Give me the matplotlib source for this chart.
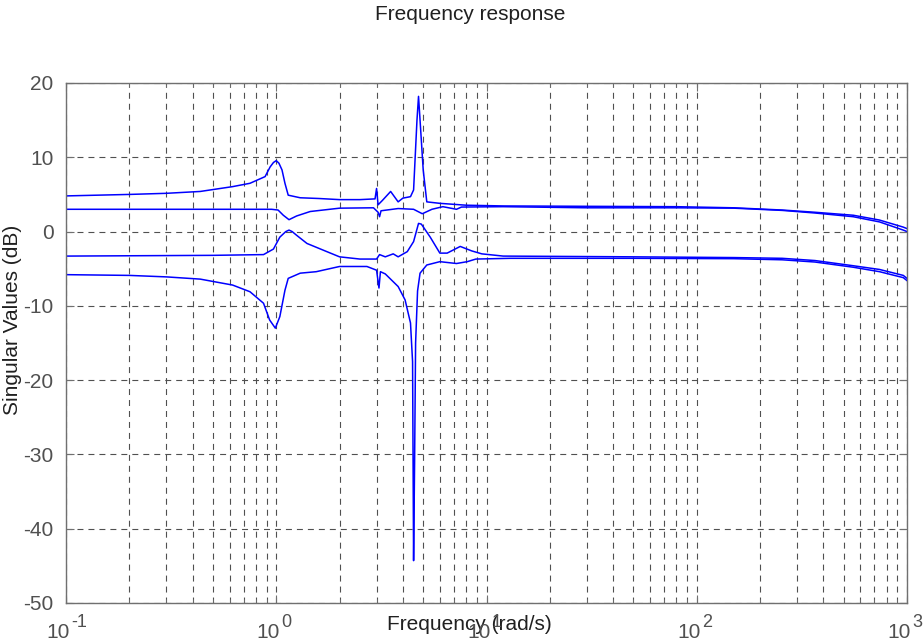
import matplotlib
matplotlib.use('Agg')
import matplotlib.pyplot as plt
from matplotlib.ticker import FixedLocator, LogLocator, NullFormatter
from matplotlib.transforms import offset_copy


# singular values: frequency (rad/s) and level (dB)
sv1_freq = [0.1, 0.2, 0.3, 0.435, 0.62, 0.75, 0.885, 0.935, 0.97, 1.0, 1.03, 1.065,
            1.1, 1.14, 1.3, 1.6, 2.0, 2.5, 2.95, 3.0, 3.05, 3.2, 3.5, 3.8, 4.0,
            4.35, 4.5, 4.67, 4.75, 4.83, 5.0, 5.2, 6.0, 8.0, 12, 30, 80, 150,
            255, 365, 555, 740, 960, 1000]
sv1_db = [4.8, 5.0, 5.15, 5.4, 6.05, 6.5, 7.4, 8.7, 9.3, 9.55, 9.2, 8.3,
          6.5, 4.9, 4.55, 4.45, 4.3, 4.3, 4.4, 5.8, 3.6, 4.2, 5.4, 4.0, 4.5,
          4.7, 5.6, 15.0, 18.2, 15.0, 8.3, 4.0, 3.8, 3.55, 3.45, 3.4, 3.35, 3.2,
          2.9, 2.6, 2.2, 1.55, 0.6, 0.4]

sv2_freq = [0.1, 0.5, 0.95, 1.02, 1.08, 1.15, 1.25, 1.45, 2.0, 2.9, 3.05, 3.1,
            3.15, 3.8, 4.5, 4.95, 5.5, 6.2, 7.2, 7.6, 12, 30, 80, 150, 255,
            365, 555, 740, 960, 1000]
sv2_db = [3.0, 3.0, 3.0, 2.9, 2.2, 1.6, 2.1, 2.7, 3.15, 3.2, 2.6, 2.0,
          2.8, 3.1, 3.0, 2.4, 3.0, 3.35, 3.0, 3.3, 3.35, 3.2, 3.2, 3.15, 2.85,
          2.5, 2.0, 1.3, 0.2, 0.0]

sv3_freq = [0.1, 0.5, 0.87, 0.97, 1.04, 1.11, 1.15, 1.19, 1.25, 1.4, 1.74, 2.0,
            2.5, 3.0, 3.1, 3.3, 3.6, 3.8, 4.2, 4.5, 4.75, 4.9, 5.4, 6.0, 6.5,
            7.5, 8.5, 9.5, 12, 50, 150, 255, 365, 555, 740, 960, 1000]
sv3_db = [-3.3, -3.2, -3.1, -2.35, -0.75, 0.0, 0.2, 0.0, -0.5, -1.6, -2.7, -3.4,
          -3.7, -3.7, -3.1, -3.4, -3.0, -3.4, -2.7, -1.35, 1.1, 1.0, -0.75, -2.9, -2.9,
          -2.0, -2.6, -3.0, -3.3, -3.4, -3.5, -3.6, -3.9, -4.6, -5.1, -5.9, -6.3]

sv4_freq = [0.1, 0.2, 0.3, 0.435, 0.62, 0.75, 0.87, 0.93, 0.99, 1.04, 1.1, 1.14,
            1.3, 1.55, 2.0, 2.7, 3.0, 3.08, 3.13, 3.3, 3.8, 4.1, 4.35, 4.45,
            4.5, 4.55, 4.6, 4.7, 4.83, 5.2, 6.0, 7.2, 8.1, 8.9, 13, 50, 150,
            255, 365, 555, 740, 960, 1000]
sv4_db = [-5.8, -5.9, -6.1, -6.4, -7.2, -8.1, -9.65, -11.9, -13.0, -11.45, -7.9, -6.3,
          -5.6, -5.4, -4.7, -4.7, -5.2, -7.6, -5.4, -5.7, -7.4, -9.2, -12.3, -17.5,
          -44.3, -31.0, -15.0, -8.0, -5.6, -4.5, -4.05, -4.3, -4.05, -3.7, -3.6, -3.6, -3.65,
          -3.8, -4.1, -4.8, -5.4, -6.2, -6.6]

x_limits = [0.1, 1000]
x_ticks = [0.1, 1, 10, 100, 1000]
x_exponents = ['-1', '0', '1', '2', '3']
y_limits = [-50, 20]
y_ticks = [-50, -40, -30, -20, -10, 0, 10, 20]

plt.rcParams['font.family'] = ['Liberation Sans', 'DejaVu Sans']
plt.rcParams['axes.unicode_minus'] = False
plt.rcParams['lines.scale_dashes'] = False

fig = plt.figure(figsize=(9.23, 6.43), dpi=100)
ax = fig.add_axes([66 / 923, 40 / 643, 841 / 923, 520 / 643])

for fr, db in [(sv1_freq, sv1_db), (sv2_freq, sv2_db),
               (sv3_freq, sv3_db), (sv4_freq, sv4_db)]:
    ax.plot(fr, db, color='#0000ff', lw=1.1)

ax.set_xscale('log')
ax.set_xlim(x_limits)
ax.set_ylim(y_limits)
ax.set_yticks(y_ticks)
ax.xaxis.set_major_locator(FixedLocator(x_ticks))
ax.xaxis.set_minor_locator(LogLocator(base=10, subs=range(2, 10), numticks=20))
ax.xaxis.set_minor_formatter(NullFormatter())

grid_style = dict(color='#505050', lw=0.8, linestyle=(0, (4.3, 3.6)))
ax.grid(True, which='major', axis='both', **grid_style)
ax.grid(True, which='minor', axis='x', **grid_style)

for sp in ax.spines.values():
    sp.set_color('#707070')
    sp.set_linewidth(1.0)

ax.tick_params(which='both', direction='in', top=True, right=True,
               colors='#707070', labelcolor='#505050', labelsize=15)
ax.tick_params(which='major', length=6)
ax.tick_params(which='minor', length=3)
ax.tick_params(axis='x', labelbottom=False)
ax.tick_params(axis='y', pad=9)

# matlab style log labels: base and exponent as two texts of near equal size
base_tr = offset_copy(ax.get_xaxis_transform(), fig=fig, x=4, y=0, units='dots')
exp_tr = offset_copy(ax.get_xaxis_transform(), fig=fig, x=5, y=0, units='dots')
for xv, ex in zip(x_ticks, x_exponents):
    ax.text(xv, -0.067, '10', transform=base_tr, ha='right', va='baseline',
            fontsize=15, color='#505050', clip_on=False)
    ax.text(xv, -0.047, ex, transform=exp_tr, ha='left', va='baseline',
            fontsize=13, color='#505050', clip_on=False)

ax.set_xlabel('Frequency (rad/s)', fontsize=15, color='#202020')
ax.xaxis.set_label_coords(0.48, -0.024)
ax.set_ylabel('Singular Values (dB)', fontsize=15, color='#202020')
ax.yaxis.set_label_coords(-0.052, 0.545)

fig.text(470 / 923, 1 - 20 / 643, 'Frequency response', ha='center',
         va='baseline', fontsize=15, color='#202020')

fig.savefig('out.png', dpi=100)
